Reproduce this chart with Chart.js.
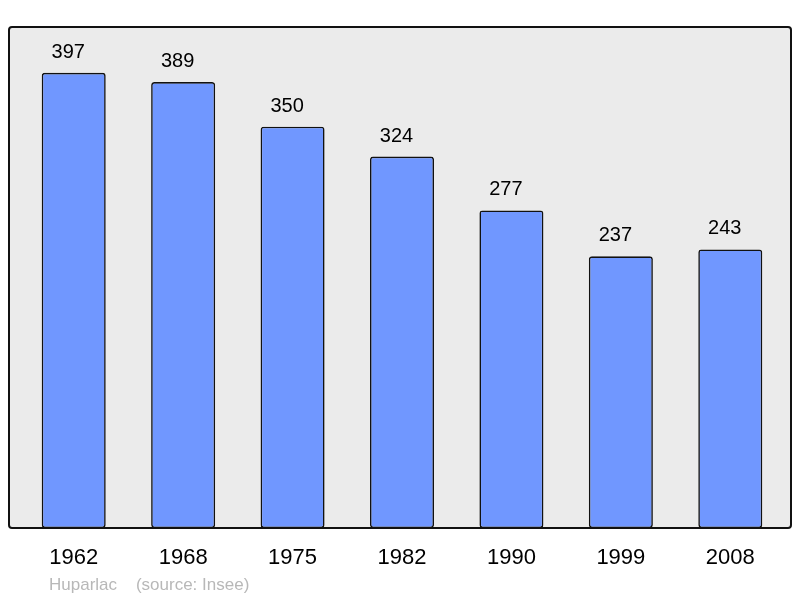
<!DOCTYPE html>
<html>
<head>
<meta charset="utf-8">
<title>Huparlac population</title>
<script src="https://cdn.jsdelivr.net/npm/chart.js@4/dist/chart.umd.min.js"></script>
<style>
  body { margin: 0; background: #fff; }
  #wrap { width: 800px; height: 598px; position: relative; }
</style>
</head>
<body>
<div id="wrap"><canvas id="myChart"></canvas></div>
<script>
var years = ['1962', '1968', '1975', '1982', '1990', '1999', '2008'];
var population = [397, 389, 350, 324, 277, 237, 243];
var caption = 'Huparlac    (source: Insee)';
var fontFamily = '"Liberation Sans", Arial, sans-serif';

// grey frame behind the bars
var framePlugin = {
	id: 'frame',
	beforeDraw: function(chart) {
		var c = chart.ctx;
		var a = chart.chartArea;
		var x0 = a.left - 10, x1 = a.right + 6;
		c.save();
		c.beginPath();
		c.roundRect(x0, a.top, x1 - x0, a.bottom - a.top, 3);
		c.fillStyle = '#ebebeb';
		c.fill();
		c.restore();
	},
	afterDatasetsDraw: function(chart) {
		var c = chart.ctx;
		var a = chart.chartArea;
		var x0 = a.left - 10, x1 = a.right + 6;
		c.save();
		c.beginPath();
		c.roundRect(x0, a.top, x1 - x0, a.bottom - a.top, 3);
		c.lineWidth = 2;
		c.strokeStyle = '#111';
		c.stroke();
		c.restore();
	}
};

// numbers over the bars (a little left of centre, like the original) and the source line
var labelPlugin = {
	id: 'valueLabels',
	afterDraw: function(chart) {
		var c = chart.ctx;
		var meta = chart.getDatasetMeta(0);
		c.save();
		c.font = '20px ' + fontFamily;
		c.fillStyle = '#000';
		c.textAlign = 'center';
		c.textBaseline = 'alphabetic';
		meta.data.forEach(function(bar, i) {
			c.fillText(population[i], bar.x - 5.5, bar.y - 15);
		});
		c.font = '17px ' + fontFamily;
		c.fillStyle = '#b8b8b8';
		c.textAlign = 'left';
		c.textBaseline = 'middle';
		c.fillText(caption, 49, 585);
		c.restore();
	}
};

var ctx = document.getElementById('myChart').getContext('2d');
var chart = new Chart(ctx, {
	type: 'bar',
	data: {
		labels: years,
		datasets: [{
			data: population,
			backgroundColor: '#7097ff',
			borderColor: '#111',
			borderWidth: 1.6,
			borderRadius: 3,
			borderSkipped: false,
			barPercentage: 0.585,
			categoryPercentage: 1
		}]
	},
	options: {
		responsive: true,
		maintainAspectRatio: false,
		animation: false,
		layout: { padding: { left: 19, right: 15, top: 27, bottom: 0 } },
		plugins: {
			legend: { display: false },
			tooltip: { enabled: false }
		},
		scales: {
			x: {
				grid: { display: false, drawTicks: false },
				border: { display: false },
				ticks: {
					color: '#000',
					padding: 17,
					font: { size: 22, family: fontFamily }
				},
				afterFit: function(scale) { scale.height = 70; }
			},
			y: {
				display: false,
				min: 0,
				max: 437
			}
		}
	},
	plugins: [framePlugin, labelPlugin]
});
</script>
</body>
</html>
